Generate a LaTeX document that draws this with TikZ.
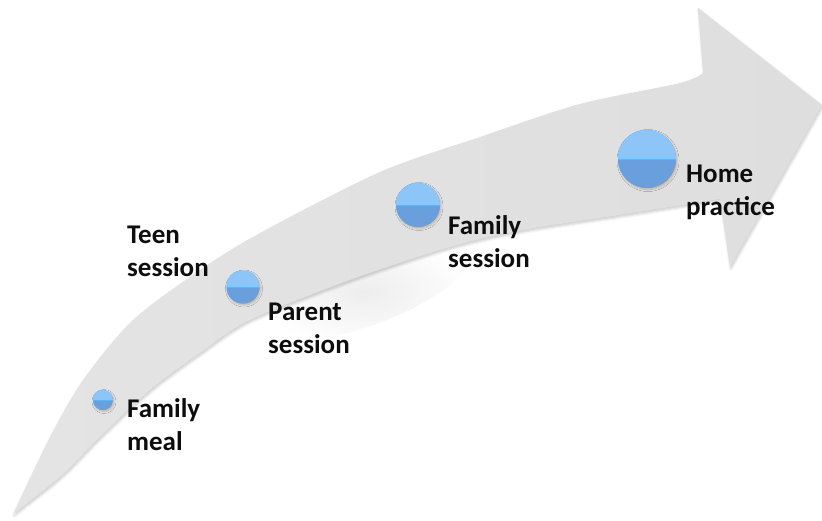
\documentclass[tikz,border=0pt]{standalone}
\usepackage{fontspec}
\setmainfont{Carlito}
\usetikzlibrary{shadows.blur,fadings}

\definecolor{arrowgray}{HTML}{DEDEDE}
\definecolor{arrowlight}{HTML}{E4E4E4}
\definecolor{bubtop}{HTML}{8DC5F8}
\definecolor{bubbot}{HTML}{6A9FDD}
\definecolor{bubline}{HTML}{4FB9FF}
\definecolor{labelink}{HTML}{0D0D0D}

\tikzfading[name=softspot, inner color=transparent!0, outer color=transparent!100]

\tikzset{
  % two-line labels, placed by the baseline of their second line
  lbl/.style={font=\bfseries\fontsize{27}{33}\selectfont, text=labelink,
    align=left, inner sep=0pt, anchor=base west},
  bubblebase/.style={circle, inner sep=0pt, fill=bubbot,
    blur shadow={shadow xshift=1pt, shadow yshift=-1.5pt,
      shadow blur radius=2pt, shadow opacity=20}},
}

% two-tone milestone dot: name, x, y, radius
\newcommand\milestone[4]{%
  \node[bubblebase, minimum size={2*#4pt}] (#1) at (#2,#3) {};
  \begin{scope}[shift={(#1.center)}]
    \clip (0,0) circle[radius=#4];
    \fill[bubtop] (-#4,-#4) rectangle (#4,0.5);
    \fill[bubbot] (-#4,0.5) rectangle (#4,#4);
    \draw[bubline, line width=1.3pt] (-#4,0.5) -- (#4,0.5);
  \end{scope}
}

\begin{document}
\begin{tikzpicture}[x=1pt, y=-1pt]
\useasboundingbox (0,0) rectangle (822,520);

% soft shade under the body of the arrow
\fill[black, opacity=0.07, path fading=softspot,
      rotate around={20:(365,292)}]
  (365,292) ellipse [x radius=110, y radius=34];

% the curved arrow
\path[left color=arrowlight, right color=arrowgray,
      blur shadow={shadow xshift=1pt, shadow yshift=-2pt,
        shadow blur radius=2.5pt, shadow opacity=20}]
  plot[smooth, tension=0.5] coordinates {
    (13,514) (50,437) (83,380) (133,320) (200,270) (260,233)
    (380,172) (480,137) (580,104) (680,83) (703,73)}
  -- (698,8) -- (822,105) -- (730,267) -- (720,199)
  -- plot[smooth, tension=0.5] coordinates {
    (720,199) (613,216) (523,230) (450,247) (350,280) (250,320)
    (200,353) (150,390) (100,437) (60,477) (13,514)}
  -- cycle;

% milestones
\milestone{meal}{103}{400}{10}
\milestone{sessions}{243}{287}{16.5}
\milestone{family}{418}{205}{22}
\milestone{home}{647}{159}{29}

% labels
\node[lbl] (mealtxt)   at (127,450) {Family\\meal};
\node[lbl] (teentxt)   at (127,276) {Teen\\session};
\node[lbl] (parenttxt) at (268,353) {Parent\\session};
\node[lbl] (familytxt) at (448,267) {Family\\session};
\node[lbl] (hometxt)   at (686,215) {Home\\practice};
\end{tikzpicture}
\end{document}
